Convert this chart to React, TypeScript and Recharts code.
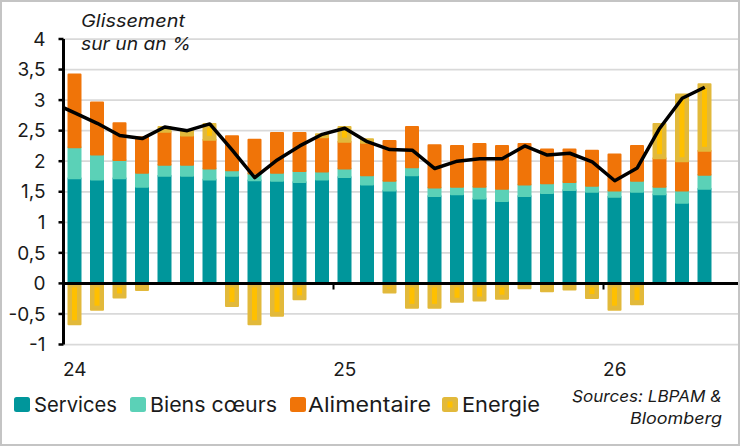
import React from 'react';
import {
  ComposedChart,
  Bar,
  Line,
  XAxis,
  YAxis,
  CartesianGrid,
  ReferenceLine,
} from 'recharts';

// Monthly contributions to euro-area inflation (pp), Dec 2023 – May 2026.
// Dec 2023 only carries the headline rate (the line enters from the left edge).
const months = [
  'déc. 23',
  'janv. 24', 'févr. 24', 'mars 24', 'avr. 24', 'mai 24', 'juin 24',
  'juil. 24', 'août 24', 'sept. 24', 'oct. 24', 'nov. 24', 'déc. 24',
  'janv. 25', 'févr. 25', 'mars 25', 'avr. 25', 'mai 25', 'juin 25',
  'juil. 25', 'août 25', 'sept. 25', 'oct. 25', 'nov. 25', 'déc. 25',
  'janv. 26', 'févr. 26', 'mars 26', 'avr. 26', 'mai 26',
];

const services = [
  null,
  1.72, 1.70, 1.72, 1.58, 1.76, 1.76, 1.70, 1.76, 1.69, 1.68, 1.66, 1.70,
  1.74, 1.62, 1.52, 1.77, 1.43, 1.46, 1.39, 1.35, 1.43, 1.48, 1.53, 1.50,
  1.42, 1.50, 1.46, 1.32, 1.55,
];

const biensCoeurs = [
  null,
  0.51, 0.41, 0.30, 0.23, 0.18, 0.18, 0.18, 0.09, 0.11, 0.13, 0.18, 0.13,
  0.14, 0.15, 0.16, 0.13, 0.14, 0.12, 0.19, 0.20, 0.19, 0.16, 0.13, 0.10,
  0.10, 0.18, 0.12, 0.20, 0.23,
];

const alimentaire = [
  null,
  1.19, 0.85, 0.60, 0.58, 0.54, 0.48, 0.47, 0.56, 0.55, 0.65, 0.62, 0.56,
  0.44, 0.53, 0.65, 0.66, 0.69, 0.67, 0.70, 0.70, 0.66, 0.55, 0.53, 0.57,
  0.59, 0.57, 0.47, 0.48, 0.39,
];

const energie = [
  null,
  -0.67, -0.43, -0.23, -0.11, 0.08, 0.09, 0.26, -0.37, -0.67, -0.53, -0.26, 0.05,
  0.24, 0.06, -0.15, -0.40, -0.40, -0.30, -0.28, -0.25, -0.08, -0.13, -0.10, -0.24,
  -0.43, -0.34, 0.56, 1.09, 1.09,
];

const glissement = [
  2.96,
  2.79, 2.62, 2.42, 2.37, 2.56, 2.50, 2.61, 2.18, 1.73, 2.02, 2.25, 2.44,
  2.54, 2.32, 2.19, 2.18, 1.88, 2.00, 2.04, 2.04, 2.25, 2.10, 2.13, 1.99,
  1.68, 1.89, 2.54, 3.03, 3.21,
];

const yearTicks = [0, 12, 24];
const yearLabels = ['24', '25', '26'];
const yTicks = [-1, -0.5, 0, 0.5, 1, 1.5, 2, 2.5, 3, 3.5, 4];

const C_SERVICES = '#00969B';
const C_BIENS = '#5BD1B7';
const C_ALIM = '#F07408';
const C_ENERGIE_RIM = '#E2B93B';
const C_ENERGIE_CORE = '#FFC000';
const TEXT = '#1A1A1A';
const FONT = 'Inter, "Noto Sans", sans-serif';

const rows = months.map((month, k) => ({
  idx: k - 1,
  month,
  services: services[k],
  biens: biensCoeurs[k],
  alim: alimentaire[k],
  energie: energie[k],
  total: glissement[k],
}));

const segment = (color: string) => (props: any) => {
  const { x, y, width, height } = props;
  if (x == null || !height) return <g />;
  const top = Math.min(y, y + height);
  const h = Math.abs(height);
  return (
    <rect
      x={x}
      y={top}
      width={width}
      height={h}
      fill={color}
      stroke={color}
      strokeWidth={2}
      strokeLinejoin="round"
    />
  );
};

const energieShape = (props: any) => {
  const { x, y, width, height } = props;
  if (x == null || !height) return <g />;
  const top = Math.min(y, y + height);
  const h = Math.abs(height);
  const insetX = 3.5;
  const insetY = 4;
  const innerH = h - 2 * insetY;
  return (
    <g>
      <rect
        x={x}
        y={top}
        width={width}
        height={h}
        fill={C_ENERGIE_RIM}
        stroke={C_ENERGIE_RIM}
        strokeWidth={2}
        strokeLinejoin="round"
      />
      {innerH > 0.5 && (
        <rect
          x={x + insetX}
          y={top + insetY}
          width={width - 2 * insetX}
          height={innerH}
          fill={C_ENERGIE_CORE}
        />
      )}
    </g>
  );
};

const legendItems = [
  { label: 'Services', color: C_SERVICES, mx: 14, tx: 34, tw: 83 },
  { label: 'Biens cœurs', color: C_BIENS, mx: 130, tx: 150, tw: 127 },
  { label: 'Alimentaire', color: C_ALIM, mx: 290, tx: 308, tw: 123 },
  { label: 'Energie', color: C_ENERGIE_RIM, mx: 442, tx: 462, tw: 78 },
];

export default function App() {
  return (
    <div style={{ position: 'absolute', left: 0, top: 0, width: 740, height: 446, background: '#fff' }}>
      <ComposedChart
        width={740}
        height={446}
        data={rows}
        stackOffset="sign"
        margin={{ top: 39, right: 1.5, bottom: 61.5, left: 0 }}
      >
        <CartesianGrid
          horizontal
          vertical={false}
          stroke="#D9D9D9"
          strokeWidth={1.75}
        />
        <XAxis
          type="number"
          dataKey="idx"
          domain={[-0.5, 29.5]}
          allowDataOverflow
          ticks={yearTicks}
          tickFormatter={(v: number) => yearLabels[yearTicks.indexOf(v)] ?? ''}
          axisLine={false}
          tickLine={false}
          height={40}
          tickMargin={12}
          tick={{ fill: TEXT, fontSize: 19, fontFamily: FONT }}
        />
        <YAxis
          type="number"
          domain={[-1, 4]}
          ticks={yTicks}
          interval={0}
          width={63.5}
          tickFormatter={(v: number) => String(v).replace('.', ',')}
          axisLine={{ stroke: '#000', strokeWidth: 3 }}
          tickLine={{ stroke: '#000', strokeWidth: 2.5 }}
          tickSize={5}
          tickMargin={13}
          tick={{ fill: TEXT, fontSize: 19, fontFamily: FONT }}
        />
        <Bar dataKey="services" stackId="a" barSize={12} isAnimationActive={false} shape={segment(C_SERVICES)} />
        <Bar dataKey="biens" stackId="a" barSize={12} isAnimationActive={false} shape={segment(C_BIENS)} />
        <Bar dataKey="alim" stackId="a" barSize={12} isAnimationActive={false} shape={segment(C_ALIM)} />
        <Bar dataKey="energie" stackId="a" barSize={12} isAnimationActive={false} shape={energieShape} />
        <ReferenceLine y={0} stroke="#000" strokeWidth={3} />
        <ReferenceLine
          segment={[{ x: 11.5, y: 0 }, { x: 11.5, y: -0.1 }]}
          stroke="#000"
          strokeWidth={2}
        />
        <ReferenceLine
          segment={[{ x: 23.5, y: 0 }, { x: 23.5, y: -0.1 }]}
          stroke="#000"
          strokeWidth={2}
        />
        <Line
          dataKey="total"
          type="linear"
          stroke="#000"
          strokeWidth={3.5}
          strokeLinejoin="round"
          dot={false}
          activeDot={false}
          isAnimationActive={false}
        />
      </ComposedChart>

      <svg
        width={740}
        height={446}
        style={{ position: 'absolute', left: 0, top: 0, pointerEvents: 'none' }}
      >
        <g fontFamily={FONT} fontStyle="italic" fill={TEXT} fontSize={17.5}>
          <text x={81} y={27} textLength={104} lengthAdjust="spacingAndGlyphs">Glissement</text>
          <text x={81} y={50} textLength={110} lengthAdjust="spacingAndGlyphs">sur un an %</text>
        </g>
        <g fontFamily={FONT} fill={TEXT} fontSize={20.5}>
          {legendItems.map((it) => (
            <g key={it.label}>
              <rect x={it.mx} y={397} width={16} height={15} rx={2.5} fill={it.color} />
              {it.label === 'Energie' && (
                <rect x={it.mx + 5.5} y={401.5} width={5} height={6} fill={C_ENERGIE_CORE} />
              )}
              <text x={it.tx} y={412} textLength={it.tw} lengthAdjust="spacingAndGlyphs">
                {it.label}
              </text>
            </g>
          ))}
        </g>
        <g fontFamily={FONT} fontStyle="italic" fill={TEXT} fontSize={16.5} textAnchor="end">
          <text x={722} y={402} textLength={150} lengthAdjust="spacingAndGlyphs">Sources: LBPAM &amp;</text>
          <text x={722} y={424} textLength={92} lengthAdjust="spacingAndGlyphs">Bloomberg</text>
        </g>
      </svg>

      <div
        style={{
          position: 'absolute',
          left: 0,
          top: 0,
          width: 740,
          height: 446,
          boxSizing: 'border-box',
          border: '2px solid #C4C4C4',
          pointerEvents: 'none',
        }}
      />
    </div>
  );
}
